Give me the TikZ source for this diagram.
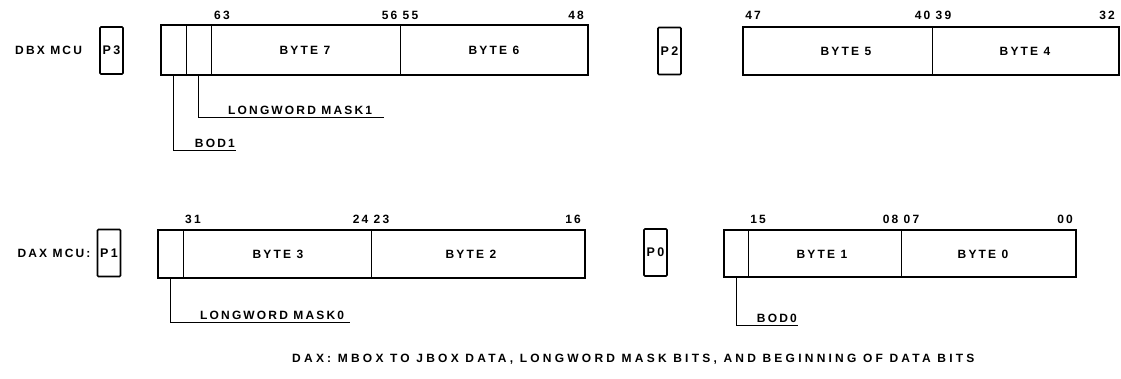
\documentclass[tikz,border=0pt]{standalone}
\usepackage{fontspec}
\setmainfont{Liberation Sans}[LetterSpace=18]
\newfontfamily\capfont{Liberation Sans}[LetterSpace=27]
\usepackage{tikz}
\usetikzlibrary{positioning}

\begin{document}
\begin{tikzpicture}[x=1pt,y=-1pt,
  lbl/.style={font=\bfseries\fontsize{12}{14}\selectfont,inner sep=1pt},
  port/.style={draw,line width=1.6pt,rounded corners=1pt,minimum width=23pt,
    minimum height=47pt,inner sep=0pt,font=\bfseries\fontsize{12.5}{14}\selectfont},
  regbox/.style={line width=1.6pt},
  divider/.style={line width=0.7pt},
  lead/.style={line width=0.8pt}]
\useasboundingbox (0,0) rectangle (1121,379);
% ---------- upper row: DBX MCU ----------
\node[port] (p3) at (111.5,50.5) {P3};
\node[lbl,left=16pt of p3] (dbx) {DBX MCU};
\draw[regbox] (161,25) rectangle (588,75);
\foreach \x in {186,211,400} \draw[divider] (\x,25) -- (\x,75);
\node[lbl] (b7) at (305,50) {BYTE 7};
\node[lbl] (b6) at (494,50) {BYTE 6};
\node[lbl] (n63) at (222,15) {63};
\node[lbl] (n5655) at (400,15) {56 55};
\node[lbl] (n48) at (576,15) {48};
% mask and bod leaders
\coordinate (lwm1cell) at (198.5,75);
\coordinate (lwm1end) at (384,117);
\node[lbl,anchor=south west] (lwm1) at (227,116) {LONGWORD MASK1};
\draw[lead] (lwm1cell) |- (lwm1end);
\coordinate (bod1cell) at (173.5,75);
\coordinate (bod1end) at (236,150);
\node[lbl,anchor=south east] (bod1) at (236,149) {BOD1};
\draw[lead] (bod1cell) |- (bod1end);

\node[port] (p2) at (669.5,51) {P2};
\draw[regbox] (743,27) rectangle (1119,75);
\draw[divider] (932,27) -- (932,75);
\node[lbl] (b5) at (846,51) {BYTE 5};
\node[lbl] (b4) at (1025,51) {BYTE 4};
\node[lbl] (n47) at (753,15) {47};
\node[lbl] (n4039) at (933,15) {40 39};
\node[lbl] (n32) at (1107,15) {32};
% ---------- lower row: DAX MCU ----------
\node[port] (p1) at (109,253) {P1};
\node[lbl,left=5pt of p1] (dax) {DAX MCU:};
\draw[regbox] (158,230) rectangle (585,278);
\foreach \x in {183,371} \draw[divider] (\x,230) -- (\x,278);
\node[lbl] (b3) at (278,254) {BYTE 3};
\node[lbl] (b2) at (471,254) {BYTE 2};
\node[lbl] (n31) at (193,219) {31};
\node[lbl] (n2423) at (371,219) {24 23};
\node[lbl] (n16) at (573,219) {16};
\coordinate (lwm0cell) at (170.5,278);
\coordinate (lwm0end) at (350,322);
\node[lbl,anchor=south west] (lwm0) at (199,321) {LONGWORD MASK0};
\draw[lead] (lwm0cell) |- (lwm0end);

\node[port] (p0) at (655.5,252.5) {P0};
\draw[regbox] (724,230) rectangle (1076,277);
\foreach \x in {748,901} \draw[divider] (\x,230) -- (\x,277);
\node[lbl] (b1) at (822,254) {BYTE 1};
\node[lbl] (b0) at (983,254) {BYTE 0};
\node[lbl] (n15) at (758,219) {15};
\node[lbl] (n0807) at (901,219) {08 07};
\node[lbl] (n00) at (1065,219) {00};
\coordinate (bod0cell) at (736,277);
\coordinate (bod0end) at (798,325);
\node[lbl,anchor=south east] (bod0) at (798,324) {BOD0};
\draw[lead] (bod0cell) |- (bod0end);
% ---------- caption ----------
\node[lbl,font=\capfont\bfseries\fontsize{12}{14}\selectfont,anchor=west] (caption) at (291,359)
  {DAX: MBOX TO JBOX DATA, LONGWORD MASK BITS, AND BEGINNING OF DATA BITS};
\end{tikzpicture}
\end{document}
